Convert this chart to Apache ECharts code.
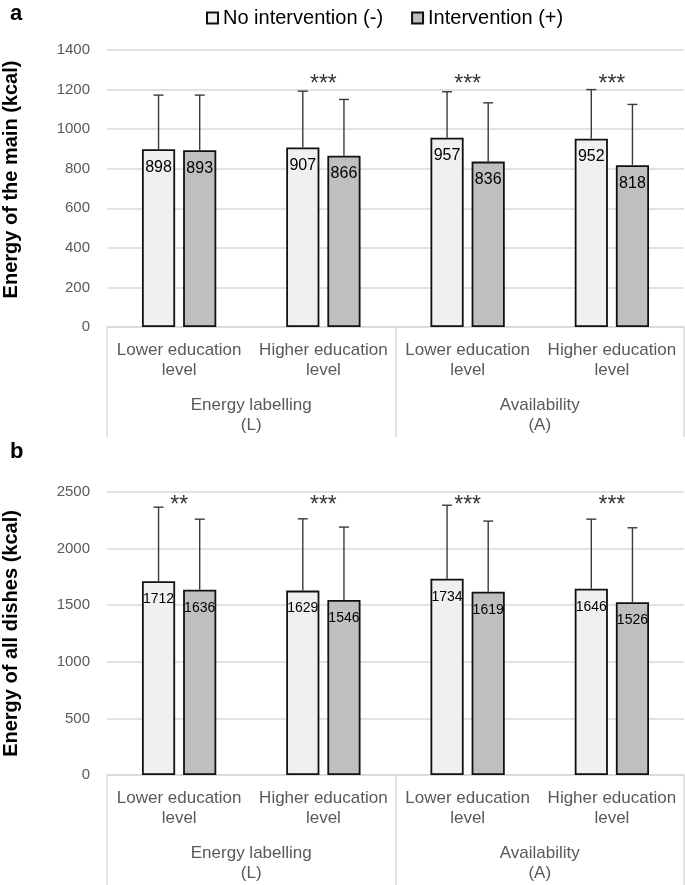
<!DOCTYPE html>
<html>
<head>
<meta charset="utf-8">
<script src="https://cdn.jsdelivr.net/npm/echarts@6/dist/echarts.min.js"></script>
<style>
html,body{margin:0;padding:0;background:#fff;}
#main{width:685px;height:885px;}
</style>
</head>
<body>
<div id="main"></div>
<script>
// ---- data ----
var subCategories = ['Lower education\nlevel', 'Higher education\nlevel', 'Lower education\nlevel', 'Higher education\nlevel'];
var groupCategories = ['Energy labelling\n(L)', 'Availability\n(A)'];
var seriesNames = ['No intervention (-)', 'Intervention (+)'];

// Panel a: energy of the main (kcal)
var mainNo = [898, 907, 957, 952];
var mainInt = [893, 866, 836, 818];
var mainNoSD = [274, 285, 232, 248];
var mainIntSD = [279, 284, 297, 307];
var mainStars = ['', '***', '***', '***'];

// Panel b: energy of all dishes (kcal)
var allNo = [1712, 1629, 1734, 1646];
var allInt = [1636, 1546, 1619, 1526];
var allNoSD = [654, 634, 649, 614];
var allIntSD = [624, 644, 624, 658];
var allStars = ['**', '***', '***', '***'];

// ---- layout/style ----
var BAR_W = 0.23, BAR_GAP = 0.24;
var GRID_COL = '#d9d9d9';
var TXT_COL = '#595959';
var FONT = 'Liberation Sans, Arial, sans-serif';

function errSeries(means, sds, xi, yi, sign) {
  return {
    type: 'custom',
    xAxisIndex: xi, yAxisIndex: yi,
    silent: true, z: 5,
    data: means.map(function (m, i) { return [i, m, sds[i]]; }),
    encode: { x: 0, y: 1 },
    renderItem: function (params, api) {
      var c = api.value(0), m = api.value(1), s = api.value(2);
      var band = api.size([1, 0])[0];
      var off = sign * band * BAR_W * (1 + BAR_GAP) / 2;
      var p0 = api.coord([c, m]);
      var p1 = api.coord([c, m + s]);
      var x = p0[0] + off;
      var st = { stroke: '#3a3a3a', lineWidth: 1.4 };
      return {
        type: 'group',
        children: [
          { type: 'line', shape: { x1: x, y1: p0[1], x2: x, y2: p1[1] }, style: st },
          { type: 'line', shape: { x1: x - 5, y1: p1[1], x2: x + 5, y2: p1[1] }, style: st }
        ]
      };
    }
  };
}

function barSeries(name, vals, color, xi, yi, fs, dist) {
  return {
    name: name, type: 'bar',
    xAxisIndex: xi, yAxisIndex: yi,
    data: vals,
    barWidth: (BAR_W * 100) + '%',
    barGap: (BAR_GAP * 100) + '%',
    itemStyle: { color: color, borderColor: '#111', borderWidth: 1.8 },
    label: { show: true, position: 'insideTop', distance: dist, color: '#000', fontSize: fs, fontFamily: FONT },
    z: 3
  };
}

function starSeries(stars, level, xi, yi) {
  var d = [];
  stars.forEach(function (s, i) { if (s) d.push({ value: [i, level], name: s }); });
  return {
    type: 'scatter', xAxisIndex: xi, yAxisIndex: yi,
    symbol: 'circle', symbolSize: 2, itemStyle: { color: 'rgba(0,0,0,0)' }, silent: true, z: 6,
    data: d,
    label: { show: true, position: 'inside', formatter: function (p) { return p.name; },
             color: '#000', fontSize: 23, fontFamily: FONT }
  };
}

function subAxis(gi) {
  return {
    type: 'category', gridIndex: gi, data: subCategories,
    axisLine: { show: false }, axisTick: { show: false },
    axisLabel: { color: TXT_COL, fontSize: 17, lineHeight: 20, margin: 13, fontFamily: FONT, interval: 0 }
  };
}
function groupAxis(gi) {
  return {
    type: 'category', gridIndex: gi, data: groupCategories, position: 'bottom',
    axisLine: { show: true, lineStyle: { color: GRID_COL, width: 1.5 } },
    axisTick: { show: true, length: 110, lineStyle: { color: GRID_COL, width: 1.5 } },
    axisLabel: { color: TXT_COL, fontSize: 17, lineHeight: 20, margin: 68, fontFamily: FONT, interval: 0 }
  };
}
function valAxis(gi, max, interval, name, pad) {
  return {
    type: 'value', gridIndex: gi, min: 0, max: max, interval: interval,
    name: name, nameLocation: 'middle', nameRotate: 90, nameGap: 86,
    nameTextStyle: { color: '#000', fontSize: 20, fontWeight: 'bold', fontFamily: FONT, padding: pad },
    axisLine: { show: false }, axisTick: { show: false },
    axisLabel: { color: TXT_COL, fontSize: 15, margin: 17, fontFamily: FONT,
                 formatter: function (v) { return String(v); } },
    splitLine: { lineStyle: { color: GRID_COL, width: 1.5 } }
  };
}

var chart = echarts.init(document.getElementById('main'), null, { renderer: 'canvas' });
chart.setOption({
  animation: false,
  backgroundColor: '#fff',
  textStyle: { fontFamily: FONT },
  title: [
    { text: 'a', left: 5, top: -2, textStyle: { fontSize: 22, fontWeight: 'bold', color: '#000', fontFamily: FONT } },
    { text: 'b', left: 5, top: 436, textStyle: { fontSize: 22, fontWeight: 'bold', color: '#000', fontFamily: FONT } }
  ],
  legend: {
    left: 201, top: 3, itemWidth: 11, itemHeight: 11, itemGap: 28, icon: 'rect',
    data: seriesNames,
    textStyle: { color: '#000', fontSize: 20, fontFamily: FONT }
  },
  grid: [
    { left: 107, right: 1, top: 50, height: 277, outerBoundsMode: 'none', containLabel: false },
    { left: 107, right: 1, top: 492, height: 283, outerBoundsMode: 'none', containLabel: false }
  ],
  xAxis: [subAxis(0), groupAxis(0), subAxis(1), groupAxis(1)],
  yAxis: [
    valAxis(0, 1400, 200, 'Energy of the main (kcal)', [0, 0, 0, 18]),
    valAxis(1, 2500, 500, 'Energy of all dishes (kcal)', [0, 0, 0, 0])
  ],
  series: [
    barSeries(seriesNames[0], mainNo, '#f0f0f0', 0, 0, 16, 10),
    barSeries(seriesNames[1], mainInt, '#bfbfbf', 0, 0, 16, 10),
    errSeries(mainNo, mainNoSD, 0, 0, -1),
    errSeries(mainInt, mainIntSD, 0, 0, 1),
    starSeries(mainStars, 1225, 0, 0),
    barSeries(seriesNames[0], allNo, '#f0f0f0', 2, 1, 14, 11),
    barSeries(seriesNames[1], allInt, '#bfbfbf', 2, 1, 14, 11),
    errSeries(allNo, allNoSD, 2, 1, -1),
    errSeries(allInt, allIntSD, 2, 1, 1),
    starSeries(allStars, 2376, 2, 1)
  ]
});
</script>
</body>
</html>
